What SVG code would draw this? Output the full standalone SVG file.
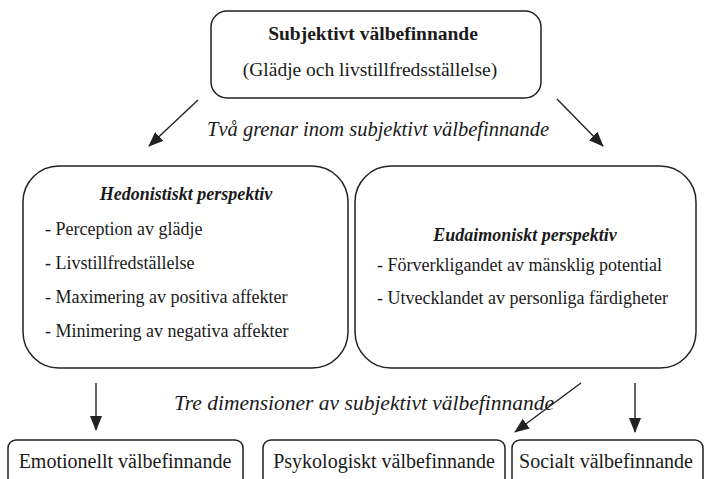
<svg xmlns="http://www.w3.org/2000/svg" width="706" height="479" viewBox="0 0 706 479">
<style>
.box{fill:#fff;stroke:#222;stroke-width:1.5}
.t{font-family:"Liberation Serif","Times New Roman",serif;font-size:18px;fill:#1a1a1a}
.b{font-weight:bold}
.i{font-style:italic}
.c{text-anchor:middle}
.big{font-size:19.5px}
.bot{font-size:20px}
.lab{font-size:20.5px}
.con{stroke:#222;stroke-width:1.4;fill:none}
</style>
<defs>
<marker id="ah" markerUnits="userSpaceOnUse" markerWidth="15" markerHeight="12" refX="14" refY="6" orient="auto">
<path d="M0,0 L15,6 L0,12 Z" fill="#222"/>
</marker>
</defs>
<rect width="706" height="479" fill="#fff"/>
<g id="connectors">
<line class="con" x1="198" y1="100" x2="149" y2="146" marker-end="url(#ah)"/>
<line class="con" x1="557" y1="99" x2="603" y2="146" marker-end="url(#ah)"/>
<line class="con" x1="96" y1="383" x2="96" y2="430" marker-end="url(#ah)"/>
<line class="con" x1="581" y1="383" x2="515" y2="432" marker-end="url(#ah)"/>
<line class="con" x1="635" y1="383" x2="635" y2="432" marker-end="url(#ah)"/>
</g>
<g id="label-two">
<text class="t i c lab" x="378" y="136">Två grenar inom subjektivt välbefinnande</text>
</g>
<g id="label-three">
<text class="t i c" x="364" y="410" style="font-size:21.5px">Tre dimensioner av subjektivt välbefinnande</text>
</g>
<g id="top">
<rect class="box" x="211" y="11" width="330" height="87" rx="16"/>
<text class="t b c big" x="373" y="40">Subjektivt välbefinnande</text>
<text class="t c big" x="370" y="76">(Glädje och livstillfredsställelse)</text>
</g>
<g id="hedonic">
<rect class="box" x="23" y="166" width="325" height="202" rx="36"/>
<text class="t b i c" x="186" y="200">Hedonistiskt perspektiv</text>
<text class="t" x="45" y="235">- Perception av glädje</text>
<text class="t" x="45" y="269">- Livstillfredställelse</text>
<text class="t" x="45" y="303">- Maximering av positiva affekter</text>
<text class="t" x="45" y="337">- Minimering av negativa affekter</text>
</g>
<g id="eudaimonic">
<rect class="box" x="355" y="166" width="341" height="202" rx="36"/>
<text class="t b i c" x="525" y="241">Eudaimoniskt perspektiv</text>
<text class="t" x="377" y="271">- Förverkligandet av mänsklig potential</text>
<text class="t" x="377" y="304">- Utvecklandet av personliga färdigheter</text>
</g>
<g id="emotional">
<rect class="box" x="8" y="440" width="235" height="70" rx="8"/>
<text class="t c bot" x="125" y="468">Emotionellt välbefinnande</text>
</g>
<g id="psychological">
<rect class="box" x="263" y="440" width="242" height="70" rx="8"/>
<text class="t c bot" x="384" y="468">Psykologiskt välbefinnande</text>
</g>
<g id="social">
<rect class="box" x="512" y="440" width="191" height="70" rx="8"/>
<text class="t c bot" x="606" y="468">Socialt välbefinnande</text>
</g>
</svg>
